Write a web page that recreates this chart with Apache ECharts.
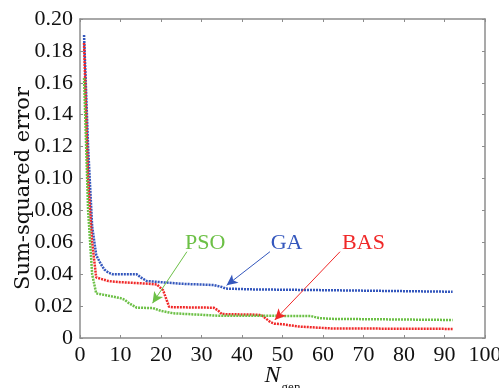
<!DOCTYPE html>
<html>
<head>
<meta charset="utf-8">
<script src="https://cdn.jsdelivr.net/npm/echarts@6/dist/echarts.min.js"></script>
<style>
  html, body { margin: 0; padding: 0; background: #fff; }
  #chart { width: 499px; height: 388px; }
</style>
</head>
<body>
<div id="chart"></div>
<script>
// generation numbers and sum-squared error
var gaGen  = [1, 2, 3, 4, 5, 6, 7, 8, 12, 14, 15, 16.5, 20, 25, 33, 35, 36, 42, 60, 92];
var gaErr  = [0.190, 0.120, 0.070, 0.052, 0.047, 0.043, 0.041, 0.040, 0.040, 0.040, 0.038, 0.0357, 0.035, 0.034, 0.0332, 0.032, 0.031, 0.0305, 0.030, 0.029];

var basGen = [1, 2, 3, 4, 7, 10, 17, 19, 20.5, 21.4, 22, 23, 33, 34, 35, 44, 45, 46, 47, 48, 50, 54, 62, 92];
var basErr = [0.185, 0.100, 0.060, 0.038, 0.0357, 0.035, 0.034, 0.0335, 0.030, 0.0238, 0.0196, 0.0193, 0.019, 0.0175, 0.015, 0.0146, 0.014, 0.012, 0.010, 0.009, 0.0086, 0.0072, 0.006, 0.0057];

var psoGen = [1, 2, 3, 4, 7, 10, 11, 12, 13, 14, 18, 20, 23, 28, 34, 57, 59, 62, 92];
var psoErr = [0.163, 0.080, 0.040, 0.028, 0.0265, 0.025, 0.024, 0.022, 0.0205, 0.019, 0.0188, 0.017, 0.0155, 0.0148, 0.014, 0.0138, 0.0125, 0.012, 0.0113];

var xTicks = [0, 10, 20, 30, 40, 50, 60, 70, 80, 90, 100];
var yTicks = [0, 0.02, 0.04, 0.06, 0.08, 0.10, 0.12, 0.14, 0.16, 0.18, 0.20];

// annotation label positions and arrows [from, to], in data units
var names = ['GA', 'BAS', 'PSO'];
var labelAt = [[51.0, 0.0594], [70.0, 0.0594], [30.9, 0.0594]];
var arrows = [
  [[46.9, 0.0541], [36.2, 0.0330]],
  [[64.2, 0.0541], [48.1, 0.0113]],
  [[26.4, 0.0541], [17.9, 0.0218]]
];
var colors = ['#3457bd', '#f02828', '#6cc046'];

function pairs(xs, ys) {
  var out = [];
  for (var i = 0; i < xs.length; i++) out.push([xs[i], ys[i]]);
  return out;
}

var serif = 'Liberation Serif';
var frame = '#8c8c8c';
var txt = { fontFamily: serif, fontSize: 22, color: '#111' };

function makeSeries(i, xs, ys) {
  return {
    name: names[i],
    type: 'line',
    data: pairs(xs, ys),
    showSymbol: false,
    symbol: 'none',
    lineStyle: { color: colors[i], width: 2.5, type: [2, 1] },
    markLine: {
      silent: true,
      symbol: ['none', 'arrow'],
      symbolSize: [8, 11],
      lineStyle: { color: colors[i], width: 1, type: 'solid' },
      label: { show: false },
      data: [[{ coord: arrows[i][0] }, { coord: arrows[i][1] }]]
    },
    markPoint: {
      silent: true,
      symbol: 'circle',
      symbolSize: 0,
      label: {
        show: true,
        position: 'inside',
        formatter: '{t|' + names[i] + '}',
        rich: { t: { fontFamily: serif, fontSize: 22, color: colors[i] } }
      },
      data: [{ coord: labelAt[i] }]
    }
  };
}

var chart = echarts.init(document.getElementById('chart'));

var option = {
  animation: false,
  backgroundColor: '#fff',
  textStyle: { fontFamily: serif },
  grid: { left: 80, right: 14, top: 19, bottom: 50, outerBoundsMode: 'none', containLabel: false },
  xAxis: [{
    type: 'value',
    min: 0, max: 100, interval: 10,
    axisLine: { show: true, onZero: false, lineStyle: { color: frame, width: 1.5 } },
    axisTick: { inside: true, length: 3, lineStyle: { color: frame } },
    splitLine: { show: false },
    axisLabel: {
      margin: 6,
      formatter: function (v) { return xTicks.indexOf(v) >= 0 ? '{t|' + v + '}' : ''; },
      rich: { t: txt }
    },
    name: '{n|N}{s|gen}',
    nameLocation: 'middle',
    nameMoveOverlap: false,
    nameGap: 30,
    nameTextStyle: {
      rich: {
        n: { fontFamily: serif, fontStyle: 'italic', fontSize: 24, lineHeight: 26, padding: [0, 1, 6, 0], verticalAlign: 'bottom', color: '#111' },
        s: { fontFamily: serif, fontSize: 13, lineHeight: 14, verticalAlign: 'bottom', color: '#111' }
      }
    }
  }, {
    type: 'value', position: 'top',
    min: 0, max: 100, interval: 10,
    axisLine: { show: true, onZero: false, lineStyle: { color: frame, width: 1.5 } },
    axisTick: { inside: true, length: 3, lineStyle: { color: frame } },
    axisLabel: { show: false },
    splitLine: { show: false }
  }],
  yAxis: [{
    type: 'value',
    min: 0, max: 0.2, interval: 0.02,
    axisLine: { show: true, onZero: false, lineStyle: { color: frame, width: 1.5 } },
    axisTick: { inside: true, length: 3, lineStyle: { color: frame } },
    splitLine: { show: false },
    axisLabel: {
      margin: 7,
      formatter: function (v) {
        var t = yTicks.find(function (k) { return Math.abs(k - v) < 1e-9; });
        if (t === undefined) return '';
        return '{t|' + (t === 0 ? '0' : t.toFixed(2)) + '}';
      },
      rich: { t: txt }
    },
    name: '{t|Sum-squared error}',
    nameLocation: 'middle',
    nameMoveOverlap: false,
    nameGap: 46,
    nameTextStyle: {
      padding: [0, 20, 0, 0],
      rich: { t: { fontFamily: 'DejaVu Serif', fontSize: 21, color: '#111' } }
    }
  }, {
    type: 'value', position: 'right',
    min: 0, max: 0.2, interval: 0.02,
    axisLine: { show: true, onZero: false, lineStyle: { color: frame, width: 1.5 } },
    axisTick: { inside: true, length: 3, lineStyle: { color: frame } },
    axisLabel: { show: false },
    splitLine: { show: false }
  }],
  series: [
    makeSeries(0, gaGen, gaErr),
    makeSeries(1, basGen, basErr),
    makeSeries(2, psoGen, psoErr)
  ]
};

chart.setOption(option);
</script>
</body>
</html>
